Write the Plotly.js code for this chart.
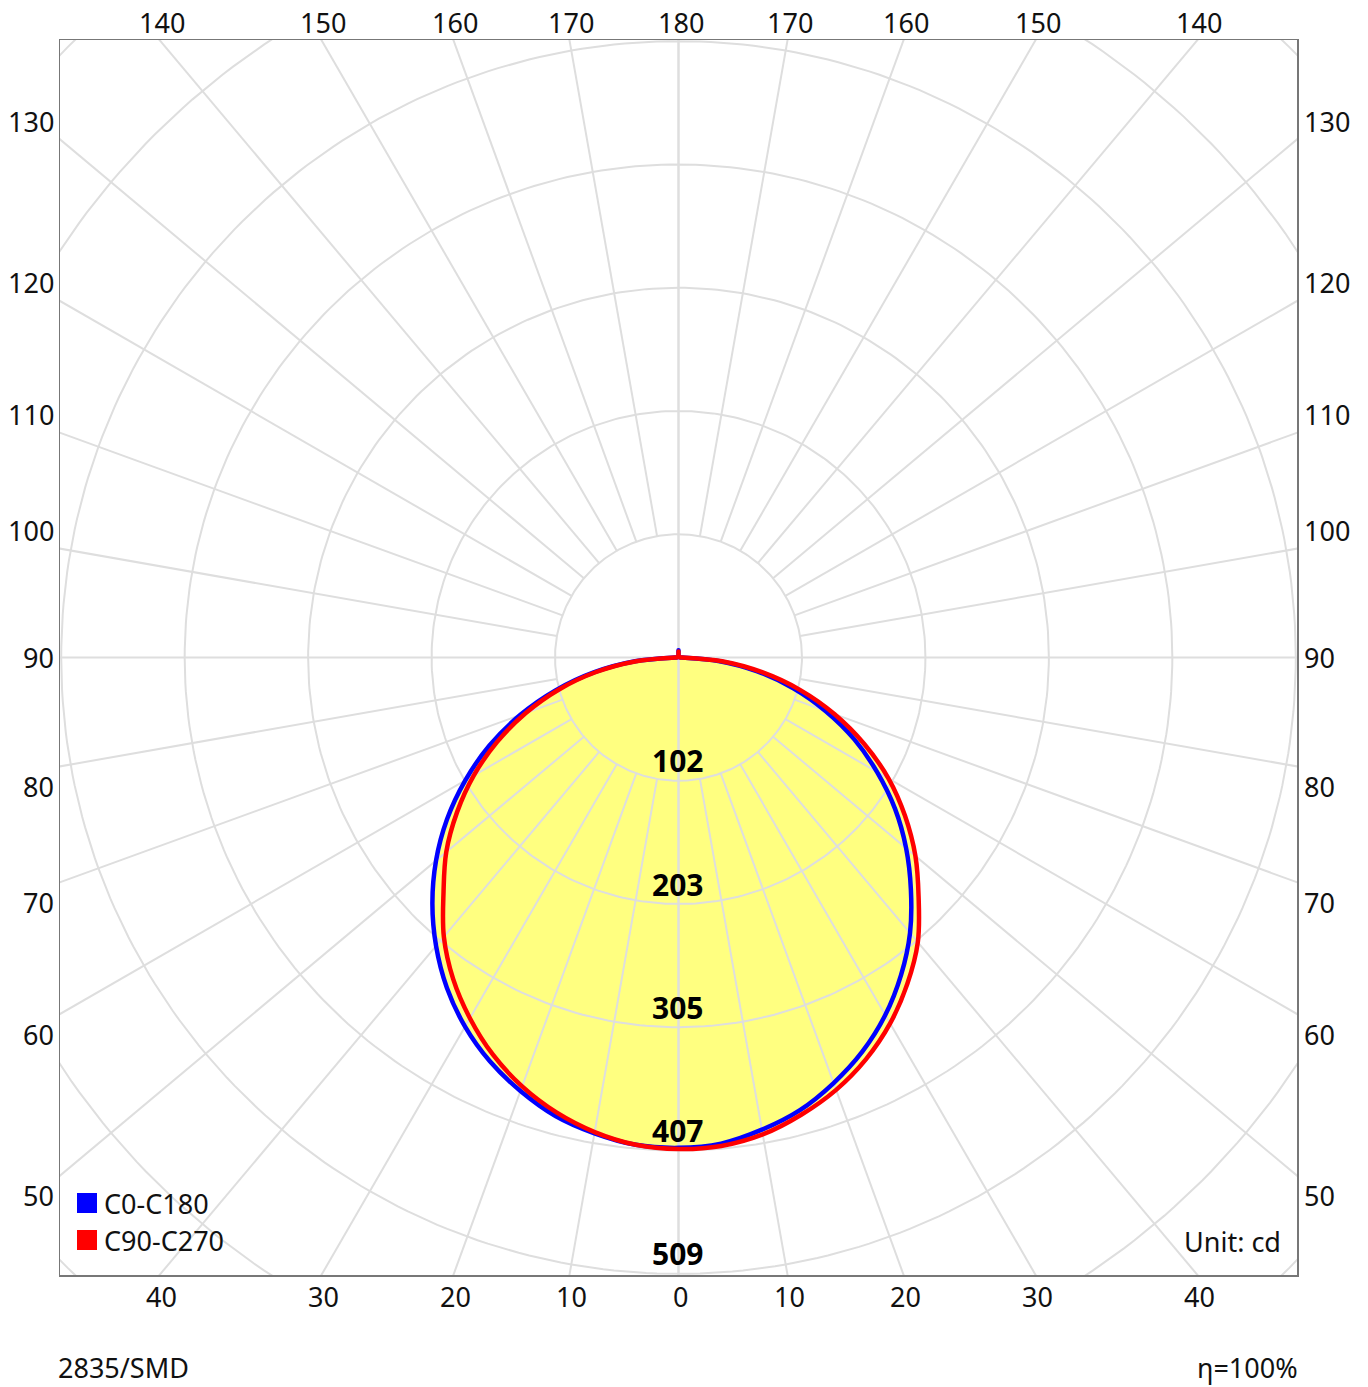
<!DOCTYPE html>
<html>
<head>
<meta charset="utf-8">
<script src="https://cdn.plot.ly/plotly-3.0.1.min.js"></script>
<style>html,body{margin:0;padding:0;background:#fff;}#chart{width:1368px;height:1387px;}</style>
</head>
<body>
<div id="chart"></div>
<script>
// ---- data (cd), gamma angles in degrees ----
const gammaDeg = [0,5,10,15,20,25,30,35,40,45,50,55,60,65,70,75,80,85,90,95,100,105,110,115,120,125,130,135,140,145,150,155,160,165,170,175,180];
// C0-C180 (blue)
const intensC0   = [405,403,396,387,374,359,341,320,297,271,245,218,189,160,129,98,66,33,3,1,1,1,1,1,1,1,1,1,1,1,1,1,1,1,1,1,6];
const intensC180 = [405,404,399,392,381,368,352,333,311,287,261,233,203,172,139,105,71,36,3,1,1,1,1,1,1,1,1,1,1,1,1,1,1,1,1,1,6];
// C90-C270 (red)
const intensC90  = [406,405,400,391,380,366,349,329,307,280,255,228,200,169,137,104,70,36,3,1,1,1,1,1,1,1,1,1,1,1,1,1,1,1,1,1,5];
const intensC270 = [406,404,398,389,377,362,344,324,301,274,250,223,195,165,134,102,69,35,3,1,1,1,1,1,1,1,1,1,1,1,1,1,1,1,1,1,5];

const seriesNames = ['C0-C180', 'C90-C270'];
const seriesColors = ['#0000ff', '#ff0000'];
const ringValues = [101.8, 203.6, 305.4, 407.2, 509.0, 610.8, 712.6];
const ringLabels = ['102', '203', '305', '407', '509'];
const spokeAngles = [0,10,20,30,40,50,60,70,80,90,100,110,120,130,140,150,160,170,180];
const unitText = 'Unit: cd';
const footLeft = '2835/SMD';
const footRight = 'η=100%';

// ---- geometry helpers ----
const H = 510;             // half extent of the square plot, cd
const FONT = 'Noto Sans, Open Sans, sans-serif';
const rad = d => d * Math.PI / 180;

function curveXY(leftVals, rightVals) {
  const x = [], y = [];
  for (let i = gammaDeg.length - 1; i >= 0; i--) {
    const g = rad(gammaDeg[i]);
    x.push(-leftVals[i] * Math.sin(g)); y.push(-leftVals[i] * Math.cos(g));
  }
  for (let i = 1; i < gammaDeg.length; i++) {
    const g = rad(gammaDeg[i]);
    x.push(rightVals[i] * Math.sin(g)); y.push(-rightVals[i] * Math.cos(g));
  }
  return {x, y};
}

const blue = curveXY(intensC180, intensC0);
const red = curveXY(intensC270, intensC90);

// grid
const gx = [], gy = [];
ringValues.forEach(r => {
  for (let a = 0; a <= 360; a += 1) { gx.push(r * Math.cos(rad(a))); gy.push(r * Math.sin(rad(a))); }
  gx.push(null); gy.push(null);
});
spokeAngles.forEach(a => {
  [-1, 1].forEach(side => {
    const r0 = (a === 0 || a === 90 || a === 180) ? 0 : ringValues[0];
    const r1 = 900;
    const g = rad(a);
    gx.push(side * r0 * Math.sin(g), side * r1 * Math.sin(g), null);
    gy.push(-r0 * Math.cos(g), -r1 * Math.cos(g), null);
  });
});

const traces = [
  {x: blue.x, y: blue.y, mode: 'lines', fill: 'toself', fillcolor: '#ffff80', line: {width: 0, color: 'rgba(0,0,0,0)', shape: 'spline', smoothing: 1}, hoverinfo: 'skip', showlegend: false},
  {x: red.x, y: red.y, mode: 'lines', fill: 'toself', fillcolor: '#ffff80', line: {width: 0, color: 'rgba(0,0,0,0)', shape: 'spline', smoothing: 1}, hoverinfo: 'skip', showlegend: false},
  {x: gx, y: gy, mode: 'lines', line: {color: '#dedede', width: 2}, connectgaps: false, hoverinfo: 'skip', showlegend: false},
  {x: blue.x, y: blue.y, mode: 'lines', name: seriesNames[0], line: {color: seriesColors[0], width: 4.5, shape: 'spline', smoothing: 1}, showlegend: false},
  {x: red.x, y: red.y, mode: 'lines', name: seriesNames[1], line: {color: seriesColors[1], width: 4.5, shape: 'spline', smoothing: 1}, showlegend: false}
];

// ---- annotations ----
const W = 1368, HT = 1387, ML = 60, MR = 71, MT = 40, MB = 112;
const pw = W - ML - MR, ph = HT - MT - MB;
const px2x = p => (p - ML) / pw;
const py2y = p => (HT - MB - p) / ph;

const ann = [];
const tickFont = {family: FONT, size: 27, color: '#111'};
spokeAngles.forEach(a => {
  [-1, 1].forEach(side => {
    if ((a === 0 || a === 180) && side === 1) return;
    const g = rad(a);
    const dx = side * Math.sin(g), dy = -Math.cos(g);
    const t = H / Math.max(Math.abs(dx), Math.abs(dy));
    const cx = dx * t, cy = dy * t;
    if (Math.abs(dy) >= Math.abs(dx) - 1e-9 && a !== 90) {
      const top = dy > 0;
      ann.push({x: cx, xref: 'x', y: top ? 1 : 0, yref: 'paper', text: String(a), showarrow: false,
        xanchor: 'center', xshift: 2, yanchor: 'middle', yshift: top ? 18 : -21, font: tickFont});
    } else {
      const shift = a < 90 ? -20 : (a > 90 ? 18 : 0);
      ann.push({x: side < 0 ? 0 : 1, xref: 'paper', y: cy, yref: 'y', text: String(a), showarrow: false,
        xanchor: side < 0 ? 'right' : 'left', xshift: side < 0 ? -4 : 5, yanchor: 'middle', yshift: shift, font: tickFont});
    }
  });
});
ringLabels.forEach((lab, i) => {
  ann.push({x: 0, xref: 'x', y: -ringValues[i], yref: 'y', text: '<b>' + lab + '</b>', showarrow: false,
    xanchor: 'center', xshift: -1, yanchor: 'middle', yshift: 20, font: {family: FONT, size: 30, color: '#000'}});
});
// legend
const shapes = [];
seriesNames.forEach((nm, i) => {
  const cyPx = 1203 + i * 37;
  shapes.push({type: 'rect', xref: 'paper', yref: 'paper', x0: px2x(77), x1: px2x(97), y0: py2y(cyPx + 10), y1: py2y(cyPx - 10),
    fillcolor: seriesColors[i], line: {width: 0}});
  ann.push({x: px2x(102), xref: 'paper', y: py2y(cyPx), yref: 'paper', text: nm, showarrow: false,
    xanchor: 'left', yanchor: 'middle', font: tickFont});
});
ann.push({x: px2x(1283), xref: 'paper', y: py2y(1241), yref: 'paper', text: unitText, showarrow: false,
  xanchor: 'right', yanchor: 'middle', font: tickFont});
ann.push({x: px2x(57), xref: 'paper', y: py2y(1367), yref: 'paper', text: footLeft, showarrow: false, borderpad: 0,
  xanchor: 'left', yanchor: 'middle', font: tickFont});
ann.push({x: px2x(1299), xref: 'paper', y: py2y(1367), yref: 'paper', text: footRight, showarrow: false, borderpad: 0,
  xanchor: 'right', yanchor: 'middle', font: tickFont});

const axisCommon = {range: [-H, H], showgrid: false, zeroline: false, showticklabels: false, ticks: '',
  showline: true, mirror: true, linecolor: '#777', linewidth: 1.5, fixedrange: true};

const layout = {
  width: W, height: HT,
  margin: {l: ML, r: MR, t: MT, b: MB, pad: 0},
  paper_bgcolor: '#ffffff', plot_bgcolor: '#ffffff',
  xaxis: Object.assign({}, axisCommon),
  yaxis: Object.assign({}, axisCommon),
  showlegend: false,
  hovermode: false,
  annotations: ann,
  shapes: shapes,
  font: {family: FONT}
};

Plotly.newPlot('chart', traces, layout, {staticPlot: true, displayModeBar: false});
</script>
</body>
</html>
